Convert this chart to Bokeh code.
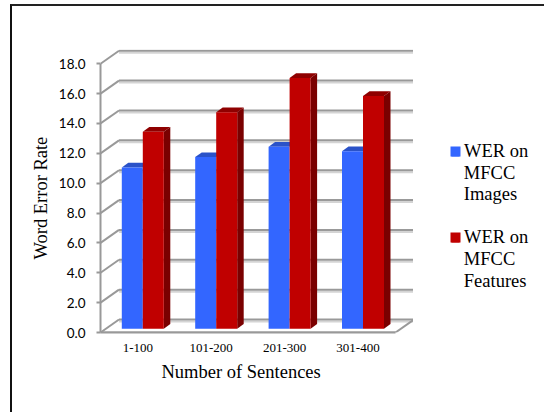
from bokeh.plotting import figure
from bokeh.embed import file_html
from bokeh.layouts import row
from bokeh.resources import INLINE
from bokeh.core.properties import value
from bokeh.models import Range1d, FixedTicker, NumeralTickFormatter, Legend, LegendItem, Title

groups = ["1-100", "101-200", "201-300", "301-400"]
images = [10.8, 11.5, 12.2, 11.9]
features = [13.2, 14.5, 16.8, 15.6]
ticks = [0, 2, 4, 6, 8, 10, 12, 14, 16, 18]
legend_images = ["WER on", "MFCC", "Images"]
legend_features = ["WER on", "MFCC", "Features"]
x_title = "Number of Sentences"
y_title = "Word Error Rate"

SX = 73.4   # px per group
SY = 14.93  # px per unit
def ux(px): return px / SX
def uy(px): return px / SY

p = figure(width=401, height=406, output_backend="svg", toolbar_location=None,
           x_range=Range1d(-37.3 / SX, 275.7 / SX), y_range=Range1d(0, 283 / SY),
           min_border_left=88, min_border_right=0, min_border_top=43, min_border_bottom=80,
           outline_line_color=None)
p.grid.visible = False

# Back wall, side wall and floor
wall_dx, wall_dy = ux(18.5), uy(13)
L, R = ux(-37.3), ux(257.7)
for c, w, o in (("#d4d4d4", 2, 2), ("#999999", 2, 0)):
    yy = [t + wall_dy - uy(o) for t in ticks]
    p.segment([L + wall_dx] * len(ticks), yy, [R + wall_dx] * len(ticks), yy, line_color=c, line_width=w)
p.segment([L] * len(ticks), ticks, [L + wall_dx] * len(ticks), [t + wall_dy for t in ticks],
          line_color="#999999", line_width=2)
p.segment([L, R], [0, 0], [R, R + wall_dx], [0, wall_dy], line_color="#999999", line_width=2)

# Bars
w = ux(21)
off = ux(5)
lift = uy(3.7)
dx, dy = ux(6.5), uy(4.7)
pos = list(range(len(groups)))

def top_face(l, r, vals):
    return ([[a, b, b + dx, a + dx] for a, b in zip(l, r)],
            [[v + lift, v + lift, v + lift + dy, v + lift + dy] for v in vals])

bl = [i + off - w for i in pos]
br = [i + off for i in pos]
rl = br
rr = [i + off + w for i in pos]

xs, ys = top_face(bl, br, images)
p.patches(xs, ys, fill_color="#2a52c8", line_color=None)
p.quad(left=bl, right=br, bottom=lift, top=[v + lift for v in images],
       fill_color="#3366ff", line_color=None)
xs, ys = top_face(rl, rr, features)
p.patches(xs, ys, fill_color="#8f0000", line_color=None)
p.patches([[b, b + dx, b + dx, b] for b in rr],
          [[lift, lift + dy, v + lift + dy, v + lift] for v in features],
          fill_color="#7a0000", line_color=None)
p.quad(left=rl, right=rr, bottom=lift, top=[v + lift for v in features],
       fill_color="#c00000", line_color=None)

# Axes
ya = p.yaxis[0]
ya.ticker = FixedTicker(ticks=ticks)
ya.bounds = (0, 18)
ya.formatter = NumeralTickFormatter(format="0.0")
ya.major_label_text_font = "Lato"
ya.major_label_text_font_size = "13.5px"
ya.major_label_text_color = "#000000"
ya.major_label_standoff = 11
ya.axis_line_color = "#999999"
ya.axis_line_width = 2
ya.major_tick_line_color = "#999999"
ya.major_tick_line_width = 2
ya.major_tick_in = 0
ya.major_tick_out = 4
ya.minor_tick_line_color = None

xa = p.xaxis[0]
xa.ticker = FixedTicker(ticks=pos)
xa.major_label_overrides = {i: g for i, g in enumerate(groups)}
xa.bounds = (L, R)
xa.major_label_text_font = "Liberation Serif"
xa.major_label_text_font_size = "13px"
xa.major_label_text_color = "#000000"
xa.major_label_standoff = 5
xa.axis_line_color = "#999999"
xa.axis_line_width = 2
xa.major_tick_line_color = None
xa.minor_tick_line_color = None

p.add_layout(Title(text=x_title, align="left", offset=61, standoff=10, text_font="Liberation Serif",
                   text_font_size="18.5px", text_font_style="normal", text_color="#000000"), "below")
p.add_layout(Title(text=y_title, align="left", offset=73, standoff=9, text_font="Liberation Serif",
                   text_font_size="18.5px", text_font_style="normal", text_color="#000000"), "left")

# Legend panel: its own figure, in page pixels (the row lines its frame up with the chart's)
q = figure(width=131, height=406, output_backend="svg", toolbar_location=None,
           x_range=Range1d(413, 544), y_range=Range1d(332, 49),
           min_border_left=0, min_border_right=0, min_border_top=0, min_border_bottom=0,
           outline_line_color=None)
q.axis.visible = False
q.grid.visible = False
key_blue = q.quad(left=[450], right=[460], top=[146], bottom=[156], fill_color="#3366ff", line_color=None)
key_red = q.quad(left=[450], right=[460], top=[232], bottom=[242], fill_color="#c00000", line_color=None)
q.add_layout(Legend(items=[LegendItem(label=legend_images[0], renderers=[key_blue]),
                           LegendItem(label=legend_features[0], renderers=[key_red])],
                    location=(37, 84), orientation="vertical", border_line_color=None,
                    background_fill_alpha=0, padding=0, margin=0, spacing=65, glyph_width=10,
                    glyph_height=10, label_standoff=4, label_text_font="Liberation Serif",
                    label_text_font_size="18.5px", label_text_color="#000000", label_height=21))
for lines, y0 in ((legend_images, 150.7), (legend_features, 237.3)):
    q.text(x=[463.3] * 2, y=[y0 + k * 21.5 for k in (1, 2)], text=lines[1:],
           text_font=value("Liberation Serif"), text_font_size="18.5px", text_color="#000000",
           text_baseline="middle")

layout = row(p, q, styles={"margin-left": "10px", "margin-top": "4px",
                           "border-left": "2px solid #111111", "border-top": "2px solid #222222"})
open("out.html", "w").write(file_html(layout, INLINE))
